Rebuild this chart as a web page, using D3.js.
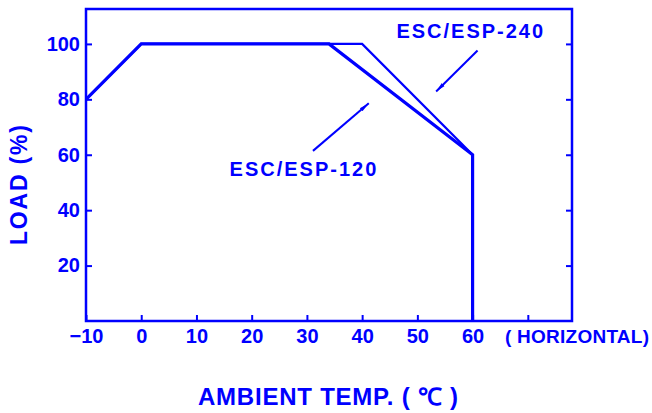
<!DOCTYPE html>
<html>
<head>
<meta charset="utf-8">
<script src="https://cdn.jsdelivr.net/npm/d3@7"></script>
<style>
  body { margin: 0; background: #fff; }
  text { font-family: "Liberation Sans", Arial, sans-serif; font-weight: bold; fill: #0000ff; }
</style>
</head>
<body>
<script>
"use strict"

// derating curves (ambient temp, load %)
var temps240 = [-10, 0, 40, 60, 60];
var load240  = [80, 100, 100, 60, 0];
var temps120 = [-10, 0, 34, 60, 60];
var load120  = [80, 100, 100, 60, 0];

var xTicks = [-10, 0, 10, 20, 30, 40, 50, 60, 70];
var yTicks = [20, 40, 60, 80, 100];

// annotation arrows in data units: [x1, y1, x2, y2] (head at the end)
var arrow240 = [60.9, 97.6, 53.4, 82.8];
var arrow120 = [31.1, 61.4, 41.2, 78.6];

var blue = "#0000ff";
var width = 652, height = 413;

var svg = d3.select("body").append("svg")
    .attr("width", width)
    .attr("height", height);

var x = d3.scaleLinear().domain([-10, 78]).range([86, 572]);
var y = d3.scaleLinear().domain([0, 112.6]).range([321, 9]);

svg.append("defs").append("marker")
    .attr("id", "head")
    .attr("viewBox", "0 0 10 6")
    .attr("refX", 10)
    .attr("refY", 3)
    .attr("markerWidth", 10)
    .attr("markerHeight", 6)
    .attr("markerUnits", "userSpaceOnUse")
    .attr("orient", "auto")
    .append("path")
    .attr("d", "M0,1 L10,3 L0,5 Z")
    .attr("fill", blue);

// axes, ticks pointing inward
var xAxis = svg.append("g")
    .attr("transform", "translate(0," + y(0) + ")")
    .call(d3.axisBottom(x).tickValues(xTicks).tickSize(-6).tickPadding(8)
        .tickFormat(function(d) { return d === 70 ? "" : d3.format("d")(d); }));

var yAxis = svg.append("g")
    .attr("transform", "translate(" + x(-10) + ",0)")
    .call(d3.axisLeft(y).tickValues(yTicks).tickSize(-6).tickPadding(6));

var yAxisR = svg.append("g")
    .attr("transform", "translate(" + x(78) + ",0)")
    .call(d3.axisRight(y).tickValues(yTicks).tickSize(-6).tickFormat(""));

[xAxis, yAxis, yAxisR].forEach(function(g) {
    g.select(".domain").remove();
    g.selectAll(".tick line").attr("stroke", blue).attr("stroke-width", 2);
    g.selectAll(".tick text")
        .attr("fill", blue)
        .style("font-family", "Liberation Sans, Arial, sans-serif")
        .style("font-weight", "bold")
        .style("font-size", "20px");
});

// frame
svg.append("rect")
    .attr("x", x(-10))
    .attr("y", y(112.6))
    .attr("width", x(78) - x(-10))
    .attr("height", y(0) - y(112.6))
    .attr("fill", "none")
    .attr("stroke", blue)
    .attr("stroke-width", 2.5);

var line = d3.line()
    .x(function(d) { return x(d[0]); })
    .y(function(d) { return y(d[1]); });

svg.append("path")
    .datum(d3.zip(temps240, load240))
    .attr("d", line)
    .attr("fill", "none")
    .attr("stroke", blue)
    .attr("stroke-width", 2.2);

svg.append("path")
    .datum(d3.zip(temps120, load120))
    .attr("d", line)
    .attr("fill", "none")
    .attr("stroke", blue)
    .attr("stroke-width", 3.2);

// labels + arrows
[arrow240, arrow120].forEach(function(a) {
    svg.append("line")
        .attr("x1", x(a[0])).attr("y1", y(a[1]))
        .attr("x2", x(a[2])).attr("y2", y(a[3]))
        .attr("stroke", blue)
        .attr("stroke-width", 2)
        .attr("marker-end", "url(#head)");
});

svg.append("text")
    .attr("x", x(46.2))
    .attr("y", y(102.3))
    .style("font-size", "20px")
    .style("letter-spacing", "2px")
    .text("ESC/ESP-240");

svg.append("text")
    .attr("x", x(16))
    .attr("y", y(52.3))
    .style("font-size", "20px")
    .style("letter-spacing", "2px")
    .text("ESC/ESP-120");

svg.append("text")
    .attr("x", 505)
    .attr("y", 343)
    .attr("textLength", 144)
    .attr("lengthAdjust", "spacing")
    .style("font-size", "19px")
    .text("( HORIZONTAL)");

svg.append("text")
    .attr("x", 198)
    .attr("y", 405)
    .attr("textLength", 260)
    .attr("lengthAdjust", "spacing")
    .style("font-size", "24px")
    .text("AMBIENT  TEMP. ( ℃ )");

svg.append("text")
    .attr("transform", "translate(27,245) rotate(-90)")
    .attr("textLength", 120)
    .attr("lengthAdjust", "spacing")
    .style("font-size", "23px")
    .text("LOAD (%)");
</script>
</body>
</html>
